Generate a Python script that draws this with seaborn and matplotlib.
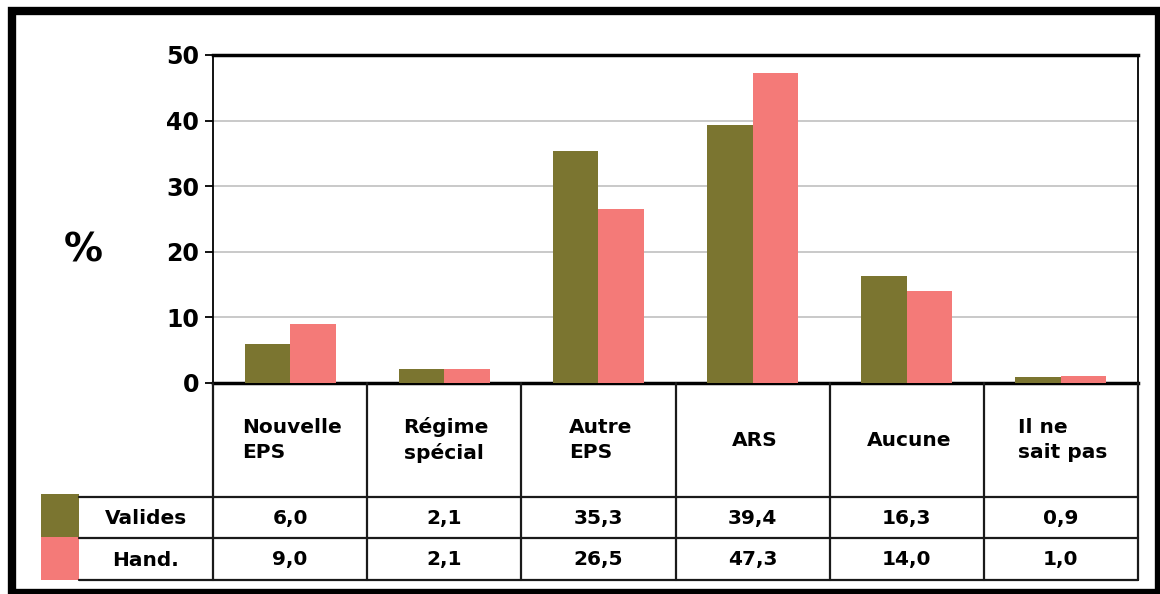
import numpy as np
import pandas as pd
import matplotlib.pyplot as plt
from matplotlib.patches import Rectangle
from matplotlib.lines import Line2D
import seaborn as sns

categories = ["Nouvelle\nEPS", "Régime\nspécial", "Autre\nEPS", "ARS", "Aucune", "Il ne\nsait pas"]
valides = [6.0, 2.1, 35.3, 39.4, 16.3, 0.9]
hand = [9.0, 2.1, 26.5, 47.3, 14.0, 1.0]
series = ["Valides", "Hand."]
colors = ["#7b7530", "#f47a78"]
yticks = [0, 10, 20, 30, 40, 50]

df = pd.DataFrame({
    "cat": categories * 2,
    "val": valides + hand,
    "grp": [series[0]] * len(categories) + [series[1]] * len(categories),
})

sns.set_style("white")
plt.rcParams["font.family"] = ["DejaVu Sans"]
plt.rcParams["font.weight"] = "bold"
plt.rcParams["text.color"] = "black"
plt.rcParams["ytick.color"] = "black"
plt.rcParams["ytick.labelcolor"] = "black"

W, H = 1160, 594
fig = plt.figure(figsize=(W / 100, H / 100), dpi=100)

# plot area in pixels
left, right, top, zero = 213, 1138, 55, 383
ax = fig.add_axes([left / W, 1 - zero / H, (right - left) / W, (zero - top) / H])
sns.barplot(data=df, x="cat", y="val", hue="grp", hue_order=series,
            palette=colors, width=0.59, gap=0, saturation=1,
            linewidth=0, errorbar=None, ax=ax, zorder=3)
ax.get_legend().remove()
ax.set_xlim(-0.5, len(categories) - 0.5)
ax.set_ylim(0, 50)
ax.set_yticks(yticks)
ax.set_yticklabels([str(t) for t in yticks], fontsize=17, fontweight="bold", color="black")
ax.set_xticks([])
ax.set_xlabel("")
ax.set_ylabel("")
ax.yaxis.grid(True, color="#c0c0c0", linewidth=1.2, zorder=0)
ax.set_axisbelow(True)
ax.tick_params(axis="y", direction="out", length=6, width=1.3, color="black", pad=4, left=True)
for s in ["left", "right"]:
    ax.spines[s].set_color("black")
    ax.spines[s].set_linewidth(1.3)
ax.spines["top"].set_color("black")
ax.spines["top"].set_linewidth(2.5)
ax.spines["bottom"].set_color("black")
ax.spines["bottom"].set_linewidth(2.5)

fig.text(83 / W, 1 - 250 / H, "%", fontsize=28, fontweight="bold", ha="center", va="center", color="black")

# overlay in pixel coordinates for the data table and frame
ov = fig.add_axes([0, 0, 1, 1])
ov.set_xlim(0, W)
ov.set_ylim(H, 0)
ov.axis("off")
ov.patch.set_visible(False)

n = len(categories)
edges = np.linspace(left, right, n + 1)
centers = (edges[:-1] + edges[1:]) / 2
row_lines = [497, 538, 580]
lc = "#1a1a1a"
for x in edges:
    ov.add_line(Line2D([x, x], [zero, row_lines[-1]], color=lc, lw=1.6))
for y in row_lines:
    ov.add_line(Line2D([79, right], [y, y], color=lc, lw=1.6))

for c, lab in zip(centers, categories):
    ov.text(c + 2, 440, lab, ha="center", va="center", fontsize=14.5, color="black",
            fontweight="bold", linespacing=1.35, multialignment="left")

swatch_y = [494, 537]
for i, (name, vals) in enumerate(zip(series, [valides, hand])):
    y0 = swatch_y[i]
    ov.add_patch(Rectangle((41, y0), 38, 43, color=colors[i], lw=0))
    ymid = (row_lines[i] + row_lines[i + 1]) / 2
    ov.text(146, ymid + 1, name, ha="center", va="center", fontsize=14.5,
            fontweight="bold", color="black")
    for c, v in zip(centers, vals):
        ov.text(c, ymid + 1, f"{v:.1f}".replace(".", ","), ha="center", va="center",
                fontsize=14.5, fontweight="bold", color="black")

# outer frame
ov.add_patch(Rectangle((12, 11), 1147, 582, fill=False, ec="black", lw=6))

fig.savefig("out.png", dpi=100)
